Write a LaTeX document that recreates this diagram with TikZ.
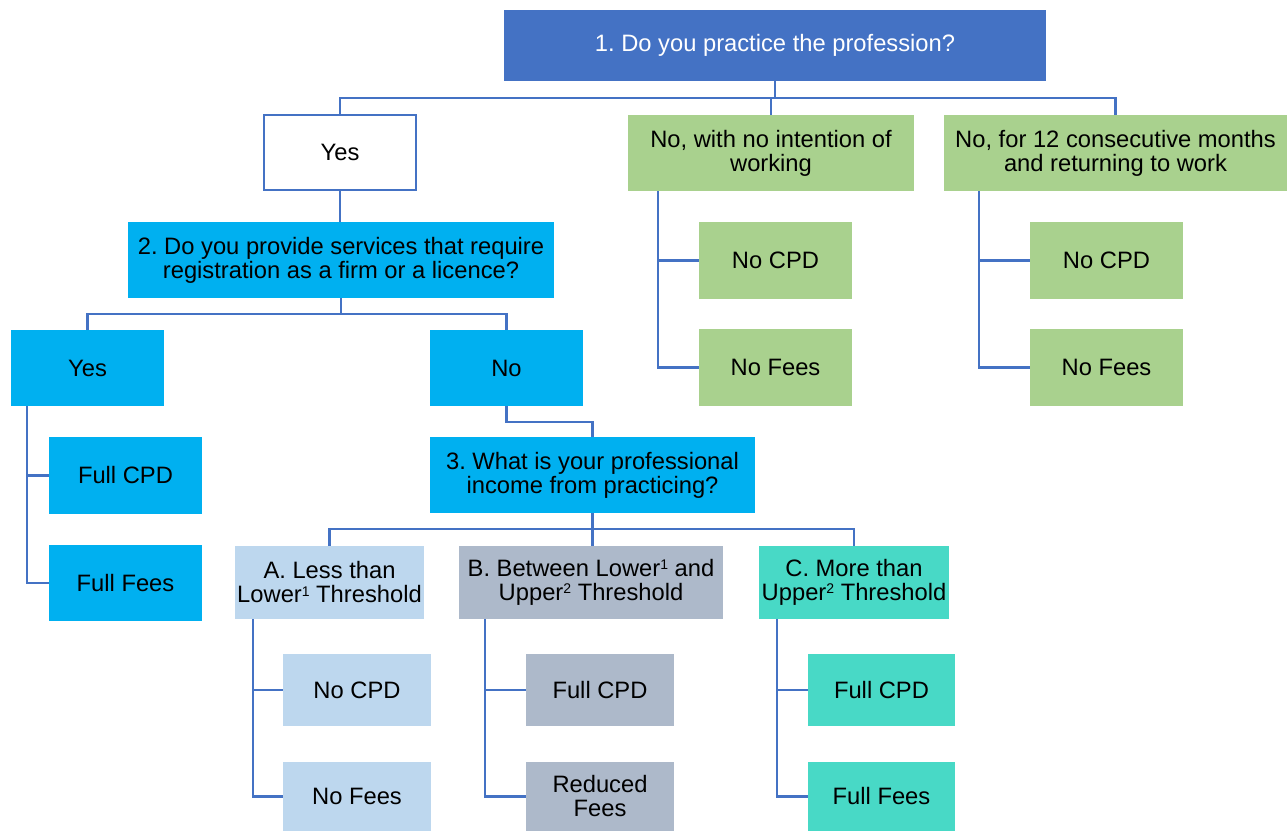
\documentclass[tikz,border=0pt]{standalone}
\usepackage{fontspec}
\setmainfont{Liberation Sans}
\usetikzlibrary{calc}
\definecolor{qdark}{HTML}{4472C4}
\definecolor{lineblue}{HTML}{4472C4}
\definecolor{cyanbox}{HTML}{00B0F0}
\definecolor{greenbox}{HTML}{A9D18E}
\definecolor{abox}{HTML}{BDD7EE}
\definecolor{bbox}{HTML}{ADB9CA}
\definecolor{cbox}{HTML}{48D9C6}
\newcommand\bxnode[7]{%
  \pgfmathsetmacro\bxw{(#4-#2)*0.75}%
  \pgfmathsetmacro\bxh{(#5-#3)*0.75}%
  \node[bx,#6,minimum width=\bxw pt,minimum height=\bxh pt] (#1) at ({(#2+#4)/2},{(#3+#5)/2}) {#7};}
\newcommand\supn[1]{\smash{\raisebox{5.2pt}{\fontsize{10.5}{10.5}\selectfont #1}}}
\begin{document}
\frenchspacing
\begin{tikzpicture}[x=0.75pt,y=-0.75pt,
  bx/.style={inner sep=0pt, align=center, font=\fontsize{17.8}{18}\selectfont, text=black},
  ln/.style={draw=lineblue, line width=1.8pt}]
\useasboundingbox (0,0) rectangle (1287,831);
% level 1
\bxnode{q1}{504}{10}{1046}{81}{fill=qdark, text=white}{1. Do you practice the profession?}
\bxnode{yes}{264}{115}{416}{190}{fill=white, draw=lineblue, line width=1.3pt}{Yes}
\bxnode{g1}{628}{115}{914}{191}{fill=greenbox}{No, with no intention of\\working}
\bxnode{g2}{944}{115}{1287}{191}{fill=greenbox}{No, for 12 consecutive months\\and returning to work}
\bxnode{g1a}{699}{222}{852}{299}{fill=greenbox}{No CPD}
\bxnode{g1b}{699}{329}{852}{406}{fill=greenbox}{No Fees}
\bxnode{g2a}{1030}{222}{1183}{299}{fill=greenbox}{No CPD}
\bxnode{g2b}{1030}{329}{1183}{406}{fill=greenbox}{No Fees}
% level 2
\bxnode{q2}{128}{222}{554}{298}{fill=cyanbox}{2. Do you provide services that require\\registration as a firm or a licence?}
\bxnode{y2}{11}{330}{164}{406}{fill=cyanbox}{Yes}
\bxnode{n2}{430}{330}{583}{406}{fill=cyanbox}{No}
\bxnode{y2a}{49}{437}{202}{514}{fill=cyanbox}{Full CPD}
\bxnode{y2b}{49}{545}{202}{621}{fill=cyanbox}{Full Fees}
% level 3
\bxnode{q3}{430}{437}{755}{513}{fill=cyanbox}{3. What is your professional\\income from practicing?}
\bxnode{a}{235}{546}{424}{619}{fill=abox}{A. Less than\\Lower\supn{1} Threshold}
\bxnode{b}{459}{546}{723}{619}{fill=bbox}{B. Between Lower\supn{1} and\\Upper\supn{2} Threshold}
\bxnode{c}{759}{546}{949}{619}{fill=cbox}{C. More than\\Upper\supn{2} Threshold}
\bxnode{a1}{283}{654}{431}{726}{fill=abox}{No CPD}
\bxnode{a2}{283}{762}{431}{831}{fill=abox}{No Fees}
\bxnode{b1}{526}{654}{674}{726}{fill=bbox}{Full CPD}
\bxnode{b2}{526}{762}{674}{831}{fill=bbox}{Reduced\\Fees}
\bxnode{c1}{808}{654}{955}{726}{fill=cbox}{Full CPD}
\bxnode{c2}{808}{762}{955}{831}{fill=cbox}{Full Fees}
% connectors
\coordinate (h1) at (0,98);
\coordinate (h2) at (0,314);
\coordinate (h3) at (0,422);
\coordinate (h4) at (0,529);
\draw[ln] (q1.south) -- (q1.south |- h1);
\draw[ln] (yes.north) -- (yes.north |- h1) -- (g2.north |- h1) -- (g2.north);
\draw[ln] (g1.north |- h1) -- (g1.north);
\draw[ln] ($(g1.south west)+(30,0)$) |- (g1a.west);
\draw[ln] ($(g1.south west)+(30,0)$) |- (g1b.west);
\draw[ln] ($(g2.south west)+(35,0)$) |- (g2a.west);
\draw[ln] ($(g2.south west)+(35,0)$) |- (g2b.west);
\draw[ln] (yes.south) -- (yes.south |- q2.north);
\draw[ln] (q2.south) -- (q2.south |- h2);
\draw[ln] (y2.north) -- (y2.north |- h2) -- (n2.north |- h2) -- (n2.north);
\draw[ln] ($(y2.south west)+(16,0)$) |- (y2a.west);
\draw[ln] ($(y2.south west)+(16,0)$) |- (y2b.west);
\draw[ln] (n2.south) -- (n2.south |- h3) -| (q3.north);
\draw[ln] (q3.south) -- (q3.south |- b.north);
\draw[ln] (a.north) -- (a.north |- h4) -- (c.north |- h4) -- (c.north);
\draw[ln] ($(a.south west)+(18,0)$) |- (a1.west);
\draw[ln] ($(a.south west)+(18,0)$) |- (a2.west);
\draw[ln] ($(b.south west)+(26,0)$) |- (b1.west);
\draw[ln] ($(b.south west)+(26,0)$) |- (b2.west);
\draw[ln] ($(c.south west)+(18,0)$) |- (c1.west);
\draw[ln] ($(c.south west)+(18,0)$) |- (c2.west);
\end{tikzpicture}
\end{document}
